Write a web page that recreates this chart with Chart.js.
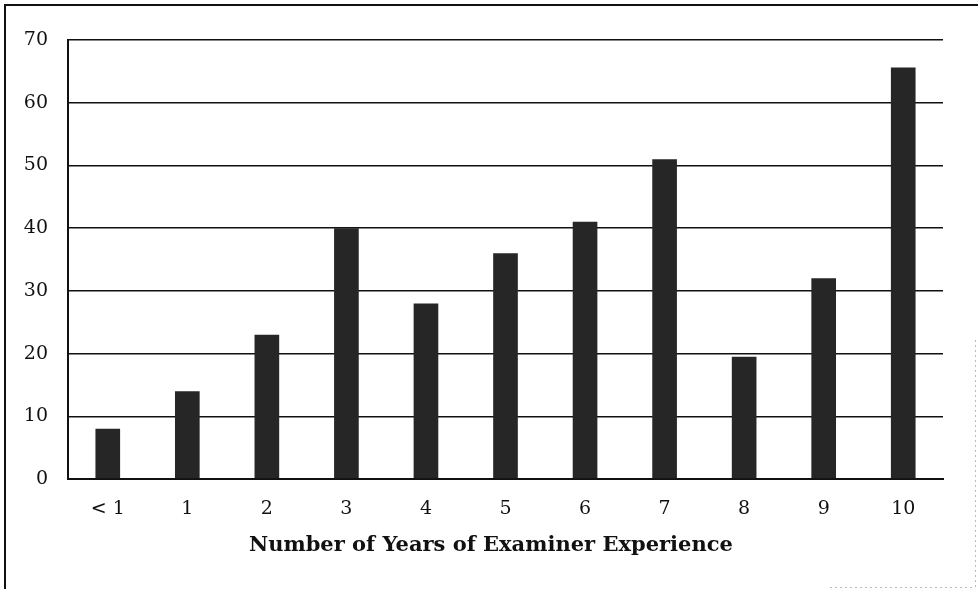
<!DOCTYPE html>
<html>
<head>
<meta charset="utf-8">
<script src="https://cdn.jsdelivr.net/npm/chart.js@4"></script>
<style>
  html, body { margin: 0; padding: 0; background: #fff; }
  #wrap { position: relative; width: 978px; height: 589px; }
</style>
</head>
<body>
<div id="wrap"><canvas id="c" width="978" height="589"></canvas></div>
<script>
const categories = ["< 1", "1", "2", "3", "4", "5", "6", "7", "8", "9", "10"];
const values = [8, 14, 23, 40, 28, 36, 41, 51, 19.5, 32, 65.6];
const yTicks = [0, 10, 20, 30, 40, 50, 60, 70];
const xTitle = "Number of Years of Examiner Experience";

const framePlugin = {
  id: 'frame',
  afterDraw(chart) {
    const ctx = chart.ctx;
    ctx.save();
    ctx.strokeStyle = '#111';
    ctx.lineWidth = 2;
    ctx.beginPath();
    ctx.moveTo(5, 589);
    ctx.lineTo(5, 5);
    ctx.lineTo(978, 5);
    ctx.stroke();
    ctx.strokeStyle = '#bbb';
    ctx.lineWidth = 1;
    ctx.setLineDash([2, 3]);
    ctx.beginPath();
    ctx.moveTo(975.5, 340);
    ctx.lineTo(975.5, 589);
    ctx.moveTo(830, 587.5);
    ctx.lineTo(975, 587.5);
    ctx.stroke();
    ctx.restore();
  }
};

new Chart(document.getElementById('c'), {
  type: 'bar',
  data: {
    labels: categories,
    datasets: [{
      data: values,
      backgroundColor: '#262626',
      borderWidth: 0,
      barPercentage: 0.31,
      categoryPercentage: 1.0
    }]
  },
  options: {
    responsive: false,
    animation: false,
    devicePixelRatio: 1,
    layout: { padding: { left: 0, right: 35, top: 40, bottom: 0 } },
    plugins: { legend: { display: false }, tooltip: { enabled: false } },
    scales: {
      x: {
        afterFit(scale) { scale.height = 110; },
        grid: { display: false, drawTicks: false },
        border: { display: true, color: '#111', width: 2 },
        ticks: { color: '#111', padding: 19, font: { family: 'DejaVu Serif', size: 19 } },
        title: {
          display: true, text: xTitle + '\u00a0\u00a0\u00a0\u00a0', color: '#111',
          font: { family: 'DejaVu Serif', size: 21, weight: 'bold' },
          padding: { top: 4, bottom: 31 }
        }
      },
      y: {
        min: 0, max: 70,
        afterFit(scale) { scale.width = 68; },
        afterBuildTicks(scale) { scale.ticks = yTicks.map(v => ({ value: v })); },
        grid: { color: '#111', lineWidth: 1.5, drawTicks: false },
        border: { display: true, color: '#111', width: 2 },
        ticks: { color: '#111', padding: 20, font: { family: 'DejaVu Serif', size: 19 } }
      }
    }
  },
  plugins: [framePlugin]
});
</script>
</body>
</html>
